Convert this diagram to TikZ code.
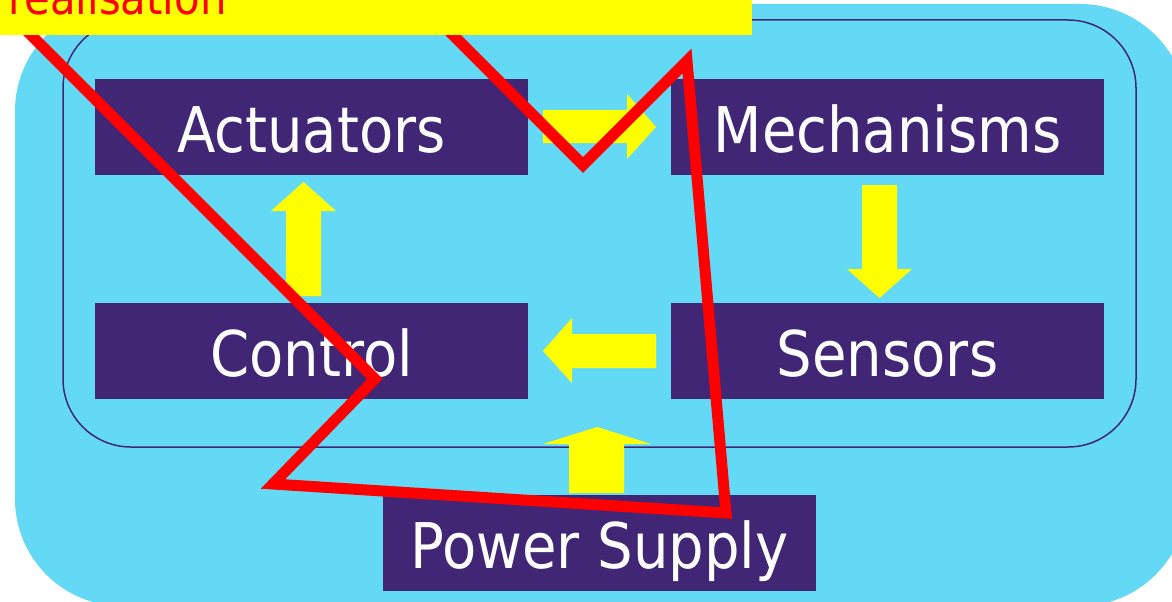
\documentclass[tikz,border=0pt]{standalone}
\usepackage{fontspec}
\setmainfont{DejaVu Sans}[FakeStretch=0.89]
\definecolor{skyfill}{RGB}{99,217,245}
\definecolor{boxpurple}{RGB}{66,38,118}
\definecolor{flowyellow}{RGB}{255,255,0}
\begin{document}
\begin{tikzpicture}[x=1pt,y=-1pt,
  box/.style={fill=boxpurple, text=white, minimum width=433pt, minimum height=96pt,
    inner sep=0pt, text height=50pt, text depth=0pt, font=\fontsize{63}{70}\selectfont},
  flow/.style={fill=flowyellow},
  cross/.style={draw=red, line width=11pt, line join=miter, miter limit=10}]
\useasboundingbox (0,0) rectangle (1172,602);
\clip (0,0) rectangle (1172,602);

% background panel and inner frame
\fill[skyfill, rounded corners=107pt] (15,4) rectangle (1187,606);
\draw[boxpurple, line width=1.5pt, rounded corners=68pt] (63,20) rectangle (1136,447);

% blocks
\node[box] (act)  at (311.5,127) {Actuators};
\node[box] (mech) at (887.5,127) {Mechanisms};
\node[box] (ctrl) at (311.5,351) {Control};
\node[box] (sens) at (887.5,351) {Sensors};
\node[box] (pow)  at (599.5,543) {Power Supply};

% block arrows between the blocks
\fill[flow] (543,110) -- (627,110) -- (627,94) -- (656,127) -- (627,159) -- (627,143) -- (543,143) -- cycle;
\fill[flow] (862,185) -- (897,185) -- (897,269) -- (912,269) -- (879.5,298) -- (847,269) -- (862,269) -- cycle;
\fill[flow] (656,334) -- (572,334) -- (572,318) -- (543,351) -- (572,383) -- (572,368) -- (656,368) -- cycle;
\fill[flow] (286,296) -- (286,211) -- (271,211) -- (303.5,182) -- (336,211) -- (321,211) -- (321,296) -- cycle;
\fill[flow] (569,493) -- (569,444) -- (543,444) -- (597,427) -- (651,444) -- (624,444) -- (624,493) -- cycle;

% red strike-through stroke
\draw[cross] (6,10) -- (375,379) -- (273,484) -- (726,513) -- (687,61) -- (583,165) -- (425,7);

% title banner
\fill[flowyellow] (0,0) rectangle (752,35);
\node[anchor=base west, inner sep=0pt, text=red, font=\fontsize{47}{52}\selectfont] (title) at (8,15) {realisation};
\end{tikzpicture}
\end{document}
